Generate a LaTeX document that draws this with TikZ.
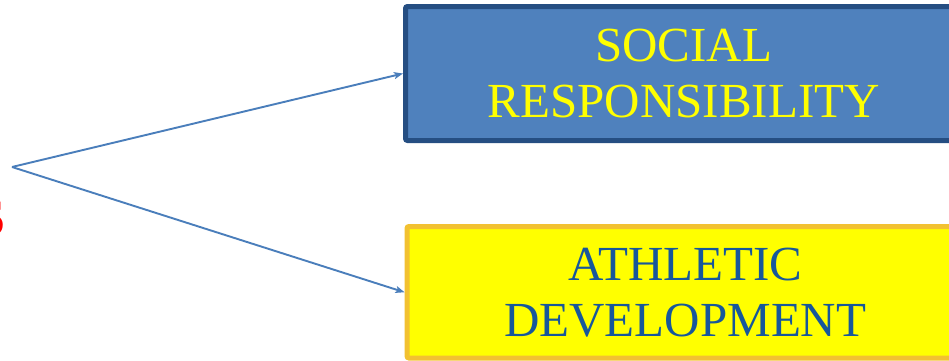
\documentclass[tikz,border=0pt]{standalone}
\usepackage{fontspec}
\setmainfont{Liberation Serif}
\usetikzlibrary{arrows.meta}
\definecolor{boxblue}{HTML}{4F81BD}
\definecolor{boxblueline}{HTML}{254E82}
\definecolor{boxyellow}{HTML}{FFFF00}
\definecolor{boxyellowline}{HTML}{F2C131}
\definecolor{textblue}{HTML}{17579B}
\definecolor{arrowblue}{HTML}{4A7EBB}
\tikzset{
  bigbox/.style={rectangle, rounded corners=2pt, line width=5pt, inner sep=0pt,
    align=center, font=\fontsize{49}{56}\selectfont,
    minimum width=556.5pt, minimum height=134pt},
  bluebox/.style={bigbox, draw=boxblueline, fill=boxblue, text=boxyellow},
  yellowbox/.style={bigbox, draw=boxyellowline, fill=boxyellow, text=textblue, minimum height=131.5pt},
  conn/.style={draw=arrowblue, line width=1.9pt, -{Stealth[length=9pt,width=7pt,inset=2pt]}}
}
\begin{document}
\begin{tikzpicture}[x=1pt,y=1pt]
\useasboundingbox (0,0) rectangle (949,360);
\node[bluebox] (soc) at (683.75,286.5) {SOCIAL\\RESPONSIBILITY};
\node[yellowbox] (ath) at (685.25,67.75) {ATHLETIC\\DEVELOPMENT};
\node[anchor=base east, inner sep=0pt, text=red, font=\fontsize{52}{56}\bfseries\selectfont] (frag) at (5.5,125) {S};
\coordinate (o) at (12,193);
\draw[conn] (o) -- (soc.west);
\draw[conn] (o) -- (ath.west);
\end{tikzpicture}
\end{document}
